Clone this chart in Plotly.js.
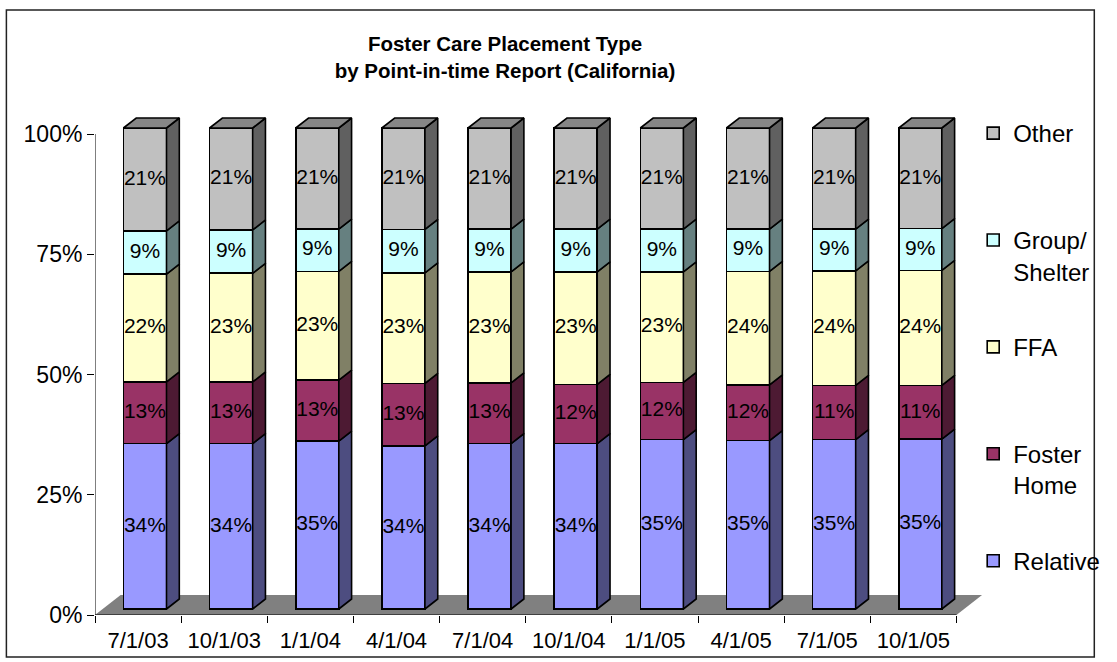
<!DOCTYPE html>
<html><head><meta charset="utf-8">
<script src="https://cdn.plot.ly/plotly-3.0.1.min.js"></script>
<style>html,body{margin:0;padding:0;background:#fff}#chart{width:1117px;height:662px}</style>
</head><body><div id="chart"></div>
<script>
// ---- data (percentages of the point-in-time total) ----
const categories   = ['7/1/03','10/1/03','1/1/04','4/1/04','7/1/04','10/1/04','1/1/05','4/1/05','7/1/05','10/1/05'];
const relative     = [34.4,34.4,34.9,33.9,34.4,34.4,35.2,35.0,35.2,35.3];
const fosterHome   = [12.8,12.8,12.7,13.0,12.6,12.3,11.9,11.6,11.3,11.2];
const ffa          = [22.4,22.6,22.6,23.0,23.1,23.4,23.0,23.6,23.8,23.9];
const groupShelter = [9.0,9.0,8.8,9.0,8.9,8.9,8.9,8.8,8.7,8.7];
const other        = [21.4,21.2,21.0,21.1,21.0,21.0,21.0,21.0,21.0,20.9];
const yTickVals    = [0,25,50,75,100];
const yTickText    = ['0%','25%','50%','75%','100%'];

// ---- styles / geometry ----
const FONT = 'Liberation Sans, Arial, Helvetica, sans-serif';
const series = [
  {name:'Relative<br> ',     vals:relative,     front:'#9999FF', side:'#4D4D80', rank:5},
  {name:'Foster<br>Home',    vals:fosterHome,   front:'#993366', side:'#4D1A33', rank:4},
  {name:'FFA<br> ',          vals:ffa,          front:'#FFFFCC', side:'#808066', rank:3},
  {name:'Group/<br>Shelter', vals:groupShelter, front:'#CCFFFF', side:'#668080', rank:2},
  {name:'Other<br> ',        vals:other,        front:'#C0C0C0', side:'#606060', top:'#868686', rank:1}
];
const PLOT = {l:95, r:1000, t:110, b:615};
const CAT_PX = 87.5, Y_PX = 4.81;
const X0 = -0.5;
const xRange = [X0, X0 + (PLOT.r - PLOT.l) / CAT_PX];
const yRange = [0, (PLOT.b - PLOT.t) / Y_PX];
const px2x = p => p / CAT_PX, px2y = p => p / Y_PX;
const BAR_W = 0.5;
const SHIFT_X = px2x(7), SHIFT_Y = px2y(6);
const SIDE_DX = px2x(13), SIDE_DY = px2y(10);
const FLOOR_DX = px2x(26), FLOOR_DY = px2y(20);
const BAR_OFFSET = -BAR_W / 2 + SHIFT_X;
const xs = categories.map((c, i) => i);
const nCat = categories.length;

const traces = [];
// floor
traces.push({
  type:'scatter', mode:'lines', xaxis:'x', yaxis:'y',
  x:[X0, X0 + nCat, X0 + nCat + FLOOR_DX, X0 + FLOOR_DX, X0],
  y:[0, 0, FLOOR_DY, FLOOR_DY, 0],
  fill:'toself', fillcolor:'#808080', line:{width:0, color:'#808080'},
  showlegend:false, hoverinfo:'skip', legendrank:100
});

const base = categories.map(() => 0);
const labelX = [], labelY = [], labelT = [];
series.forEach((s, si) => {
  const lo = base.slice();
  const hi = lo.map((b, i) => b + s.vals[i]);
  // front faces
  traces.push({
    type:'bar', name:s.name, legendgroup:'g' + si, legendrank:s.rank,
    x:xs, y:s.vals, xaxis:'x', yaxis:'y2',
    width:BAR_W, offset:BAR_OFFSET,
    marker:{color:s.front, line:{color:'#000', width:1.6}},
    hoverinfo:'skip'
  });
  // side faces
  const sx = [], sy = [];
  xs.forEach((x, i) => {
    const xr = x + BAR_OFFSET + BAR_W;
    sx.push(xr, xr + SIDE_DX, xr + SIDE_DX, xr, xr, null);
    sy.push(lo[i], lo[i] + SIDE_DY, hi[i] + SIDE_DY, hi[i], lo[i], null);
  });
  traces.push({
    type:'scatter', mode:'lines', x:sx, y:sy, xaxis:'x', yaxis:'y2',
    fill:'toself', fillcolor:s.side, line:{color:'#000', width:1.6},
    legendgroup:'g' + si, legendrank:s.rank, showlegend:false, hoverinfo:'skip'
  });
  if (s.top) {
    const tx = [], ty = [];
    xs.forEach((x, i) => {
      const xl = x + BAR_OFFSET, xr = xl + BAR_W;
      tx.push(xl, xl + SIDE_DX, xr + SIDE_DX, xr, xl, null);
      ty.push(hi[i], hi[i] + SIDE_DY, hi[i] + SIDE_DY, hi[i], hi[i], null);
    });
    traces.push({
      type:'scatter', mode:'lines', x:tx, y:ty, xaxis:'x', yaxis:'y2',
      fill:'toself', fillcolor:s.top, line:{color:'#000', width:1.6},
      legendgroup:'g' + si, legendrank:s.rank, showlegend:false, hoverinfo:'skip'
    });
  }
  xs.forEach((x, i) => {
    labelX.push(x + SHIFT_X);
    labelY.push(lo[i] + s.vals[i] / 2);
    labelT.push(Math.round(s.vals[i]) + '%');
    base[i] = hi[i];
  });
});
traces.push({
  type:'scatter', mode:'text', x:labelX, y:labelY, text:labelT, xaxis:'x', yaxis:'y2',
  textfont:{family:FONT, size:21, color:'#000'}, textposition:'middle center',
  showlegend:false, hoverinfo:'skip', cliponaxis:false, legendrank:100
});

const boundaries = [];
for (let i = 0; i <= nCat; i++) boundaries.push(X0 + i);
const pxX = p => (p - PLOT.l) / (PLOT.r - PLOT.l);
const pxY = p => (PLOT.b - p) / (PLOT.b - PLOT.t);

const layout = {
  width:1117, height:662,
  margin:{l:PLOT.l, r:1117 - PLOT.r, t:PLOT.t, b:662 - PLOT.b, pad:0},
  paper_bgcolor:'#fff', plot_bgcolor:'rgba(0,0,0,0)',
  barmode:'stack', bargap:0,
  font:{family:FONT, color:'#000'},
  title:{
    text:'Foster Care Placement Type<br>by Point-in-time Report (California)',
    font:{family:FONT, size:20.5, color:'#000', weight:'bold'},
    xref:'container', x:505/1117, xanchor:'center',
    yref:'container', y:1 - 51/662, yanchor:'middle'
  },
  xaxis:{
    range:xRange, showgrid:false, zeroline:false, showline:false,
    tickmode:'array', tickvals:xs, ticktext:categories, ticks:'',
    ticklabelstandoff:10,
    tickfont:{family:FONT, size:22, color:'#000'},
    minor:{tickmode:'array', tickvals:boundaries, ticks:'outside', ticklen:7, tickcolor:'#000', tickwidth:1, showgrid:false},
    fixedrange:true
  },
  yaxis:{
    range:yRange, showgrid:false, zeroline:false, showline:false,
    tickmode:'array', tickvals:yTickVals, ticktext:yTickText,
    ticks:'outside', ticklen:7, tickcolor:'#000', tickwidth:1,
    tickfont:{family:FONT, size:23, color:'#000'}, fixedrange:true
  },
  yaxis2:{
    range:[yRange[0] - SHIFT_Y, yRange[1] - SHIFT_Y], overlaying:'y', visible:false, fixedrange:true
  },
  legend:{
    x:pxX(987), xanchor:'left', y:pxY(111), yanchor:'top',
    font:{family:FONT, size:24, color:'#000'},
    traceorder:'grouped', tracegroupgap:41.5, valign:'top',
    bgcolor:'rgba(0,0,0,0)', borderwidth:0
  },
  shapes:[
    {type:'line', xref:'x', yref:'y', x0:X0, x1:X0 + nCat, y0:0, y1:0, line:{color:'#000', width:1}, layer:'above'},
    {type:'line', xref:'x', yref:'y', x0:X0, x1:X0, y0:0, y1:100, line:{color:'#000', width:1}, layer:'above'},
    {type:'rect', xref:'paper', yref:'paper', x0:pxX(5), x1:pxX(1110), y0:pxY(657), y1:pxY(10), line:{color:'#222', width:1.5}, fillcolor:'rgba(0,0,0,0)', layer:'above'}
  ],
  showlegend:true
};

Plotly.newPlot('chart', traces, layout, {displayModeBar:false, staticPlot:true});
</script>
</body></html>
